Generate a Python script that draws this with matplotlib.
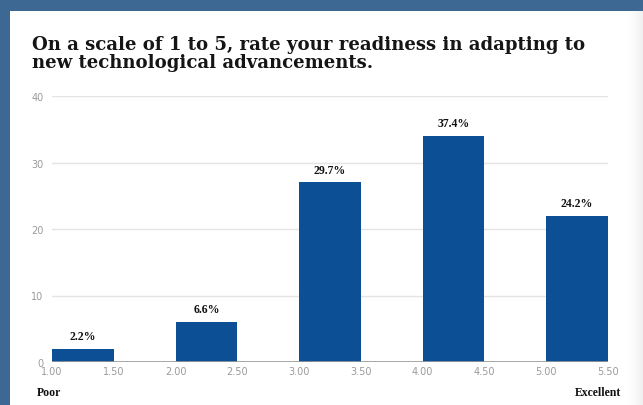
import numpy as np
import matplotlib.pyplot as plt
from matplotlib.patches import Rectangle

# rating bins (left edges), counts per bin
bin_left = [1.0, 2.0, 3.0, 4.0, 5.0]
counts = [2, 6, 27, 34, 22]
bin_width = 0.5
x_ticks = [1.0, 1.5, 2.0, 2.5, 3.0, 3.5, 4.0, 4.5, 5.0, 5.5]
y_ticks = [0, 10, 20, 30, 40]
title = "On a scale of 1 to 5, rate your readiness in adapting to\nnew technological advancements."

total = sum(counts)
pct = [100 * c / total for c in counts]

frame_blue = "#3c6893"
bar_blue = "#0c4f95"

fig = plt.figure(figsize=(6.43, 4.06), dpi=100)
fig.patch.set_facecolor(frame_blue)

# white card
fig.add_artist(Rectangle((10 / 643, 0), 1, 1 - 12 / 406, transform=fig.transFigure,
                         facecolor="white", edgecolor="none", zorder=0))
# soft shadow on the right edge
for i in range(18):
    g = 1 - 0.06 * (i / 17) ** 1.5
    fig.add_artist(Rectangle(((625 + i) / 643, 0), 1.2 / 643, 1 - 12 / 406,
                             transform=fig.transFigure, facecolor=(g, g, g),
                             edgecolor="none", zorder=0.5))

ax = fig.add_axes([52 / 643, 43 / 406, 556 / 643, 266 / 406])
ax.set_facecolor("none")

ax.bar(bin_left, counts, width=bin_width, align="edge", color=bar_blue, zorder=3)

for x, c, p in zip(bin_left, counts, pct):
    ax.annotate(f"{p:.1f}%", (x + bin_width / 2, c), xytext=(0, 5),
                textcoords="offset points", ha="center", va="bottom",
                fontsize=8.5, fontweight="bold", family="Liberation Serif",
                color="#111111")

ax.set_xlim(1.0, 5.5)
ax.set_ylim(0, 40)
ax.set_xticks(x_ticks)
ax.set_xticklabels([f"{t:.2f}" for t in x_ticks])
ax.set_yticks(y_ticks)
ax.tick_params(axis="both", length=0, labelsize=7, labelcolor="#9a9a9a")
ax.tick_params(axis="x", pad=3)
ax.tick_params(axis="y", pad=6)
ax.grid(axis="y", color="#e4e4e4", linewidth=1, zorder=0)
ax.axhline(0, color="#9a9a9a", linewidth=1.2, zorder=4)
for s in ax.spines.values():
    s.set_visible(False)

# two-line title; baseline given for the last line
fig.text(32 / 643, 1 - 68 / 406, title, ha="left", va="baseline",
         fontsize=13.1, fontweight="bold", family="DejaVu Serif",
         color="#151515", linespacing=1.02)

fig.text(37 / 643, 1 - 396 / 406, "Poor", ha="left", va="baseline",
         fontsize=8.5, fontweight="bold", family="Liberation Serif", color="#111111")
fig.text(621 / 643, 1 - 396 / 406, "Excellent", ha="right", va="baseline",
         fontsize=8.5, fontweight="bold", family="Liberation Serif", color="#111111")

fig.savefig("out.png", dpi=100, facecolor=fig.get_facecolor())
